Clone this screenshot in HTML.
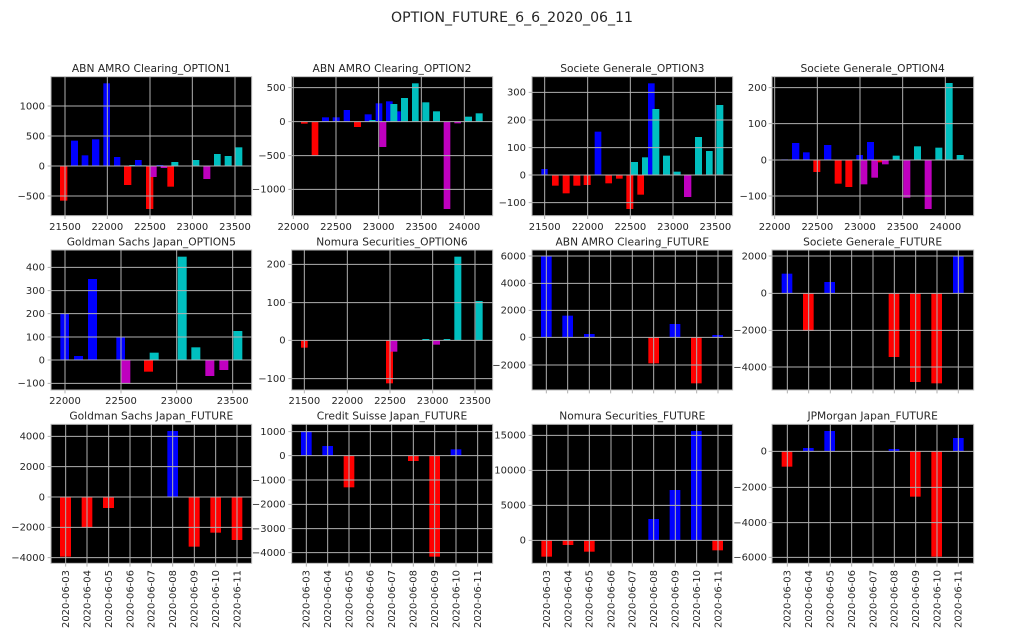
<!DOCTYPE html>
<html><head><meta charset="utf-8"><style>
html,body{margin:0;padding:0;background:#fff;width:1024px;height:640px;overflow:hidden}
svg{display:block}
text{font-family:"DejaVu Sans","Liberation Sans",sans-serif;fill:#262626}
.t{font-size:30px}
.tt{font-size:32px;text-anchor:middle}
.yl{text-anchor:end}
.xl{text-anchor:middle}
.gr line{stroke:#b0b0b0;stroke-width:3}
.fr{fill:none;stroke:#bdbdbd;stroke-width:3}
.bk{fill:#000}
.b{fill:#0000ff}.r{fill:#ff0000}.c{fill:#00bfbf}.m{fill:#bf00bf}
</style></head><body>
<svg width="1024" height="640" viewBox="0 0 1024 640" xmlns="http://www.w3.org/2000/svg">
<text x="512" y="22" style="font-size:14.1px;text-anchor:middle">OPTION_FUTURE_6_6_2020_06_11</text>

<!-- ZOOM1: origin 0,50 -->
<g transform="translate(0,50) scale(0.33333)">
 <text class="tt" x="454" y="66">ABN AMRO Clearing_OPTION1</text>
 <rect class="bk" x="153" y="80" width="602" height="417"/>
 <rect class="r" x="180" y="348" width="22" height="104"/>
 <rect class="b" x="213" y="272" width="21" height="76"/>
 <rect class="b" x="245" y="316" width="20" height="32"/>
 <rect class="b" x="276" y="268" width="22" height="80"/>
 <rect class="b" x="310" y="100" width="20" height="248"/>
 <rect class="b" x="342" y="321" width="19" height="27"/>
 <rect class="r" x="372" y="348" width="22" height="57"/>
 <rect class="c" x="388" y="345" width="20" height="3"/>
 <rect class="b" x="405" y="330" width="20" height="18"/>
 <rect class="c" x="420" y="346" width="20" height="2"/>
 <rect class="r" x="438" y="348" width="22" height="129"/>
 <rect class="m" x="450" y="348" width="20" height="33"/>
 <rect class="b" x="470" y="345" width="20" height="3"/>
 <rect class="m" x="482" y="348" width="20" height="6"/>
 <rect class="r" x="502" y="348" width="20" height="62"/>
 <rect class="c" x="514" y="336" width="21" height="12"/>
 <rect class="c" x="578" y="330" width="20" height="18"/>
 <rect class="m" x="610" y="348" width="21" height="39"/>
 <rect class="c" x="642" y="312" width="20" height="36"/>
 <rect class="c" x="674" y="318" width="21" height="30"/>
 <rect class="c" x="706" y="292" width="21" height="56"/>
 <g class="gr">
  <line x1="195" y1="80" x2="195" y2="507"/><line x1="322" y1="80" x2="322" y2="507"/><line x1="450" y1="80" x2="450" y2="507"/><line x1="577" y1="80" x2="577" y2="507"/><line x1="705" y1="80" x2="705" y2="507"/>
  <line x1="143" y1="168" x2="755" y2="168"/><line x1="143" y1="258" x2="755" y2="258"/><line x1="143" y1="348" x2="755" y2="348"/><line x1="143" y1="438" x2="755" y2="438"/>
 </g>
 <rect class="fr" x="153" y="80" width="602" height="417"/>
 <g class="t xl"><text x="195" y="540">21500</text><text x="322" y="540">22000</text><text x="450" y="540">22500</text><text x="577" y="540">23000</text><text x="705" y="540">23500</text></g>
 <g class="t yl"><text x="135" y="178">1000</text><text x="135" y="268">500</text><text x="135" y="358">0</text><text x="135" y="448">−500</text></g>

 <text class="tt" x="1176" y="66">ABN AMRO Clearing_OPTION2</text>
 <rect class="bk" x="875" y="80" width="603" height="417"/>
 <rect class="r" x="903" y="215" width="20" height="6"/>
 <rect class="r" x="935" y="215" width="20" height="101"/>
 <rect class="b" x="966" y="202" width="21" height="13"/>
 <rect class="b" x="998" y="202" width="21" height="13"/>
 <rect class="b" x="1031" y="180" width="19" height="35"/>
 <rect class="r" x="1062" y="215" width="21" height="16"/>
 <rect class="b" x="1094" y="193" width="21" height="22"/>
 <rect class="c" x="1108" y="210" width="19" height="5"/>
 <rect class="b" x="1127" y="160" width="20" height="55"/>
 <rect class="m" x="1138" y="215" width="21" height="76"/>
 <rect class="b" x="1158" y="154" width="20" height="61"/>
 <rect class="b" x="1190" y="184" width="12" height="31"/>
 <rect class="c" x="1171" y="162" width="21" height="53"/>
 <rect class="c" x="1203" y="144" width="21" height="71"/>
 <rect class="c" x="1236" y="100" width="20" height="115"/>
 <rect class="c" x="1267" y="157" width="21" height="58"/>
 <rect class="c" x="1299" y="184" width="21" height="31"/>
 <rect class="m" x="1331" y="215" width="20" height="262"/>
 <rect class="m" x="1363" y="215" width="20" height="5"/>
 <rect class="c" x="1395" y="200" width="21" height="15"/>
 <rect class="c" x="1427" y="190" width="21" height="25"/>
 <g class="gr">
  <line x1="880" y1="80" x2="880" y2="507"/><line x1="1008" y1="80" x2="1008" y2="507"/><line x1="1136" y1="80" x2="1136" y2="507"/><line x1="1264" y1="80" x2="1264" y2="507"/><line x1="1393" y1="80" x2="1393" y2="507"/>
  <line x1="865" y1="113" x2="1478" y2="113"/><line x1="865" y1="215" x2="1478" y2="215"/><line x1="865" y1="317" x2="1478" y2="317"/><line x1="865" y1="418" x2="1478" y2="418"/>
 </g>
 <rect class="fr" x="875" y="80" width="603" height="417"/>
 <g class="t xl"><text x="880" y="540">22000</text><text x="1008" y="540">22500</text><text x="1136" y="540">23000</text><text x="1264" y="540">23500</text><text x="1393" y="540">24000</text></g>
 <g class="t yl"><text x="857" y="123">500</text><text x="857" y="225">0</text><text x="857" y="327">−500</text><text x="857" y="428">−1000</text></g>
</g>

<!-- ZOOM2: origin 512,50 -->
<g transform="translate(512,50) scale(0.33333)">
 <text class="tt" x="361" y="66">Societe Generale_OPTION3</text>
 <rect class="bk" x="60" y="80" width="602" height="417"/>
 <rect class="b" x="88" y="357" width="19" height="18"/>
 <rect class="r" x="120" y="375" width="20" height="32"/>
 <rect class="r" x="152" y="375" width="21" height="55"/>
 <rect class="r" x="184" y="375" width="21" height="32"/>
 <rect class="r" x="215" y="375" width="21" height="30"/>
 <rect class="b" x="248" y="245" width="20" height="130"/>
 <rect class="r" x="280" y="375" width="20" height="25"/>
 <rect class="r" x="312" y="375" width="20" height="11"/>
 <rect class="r" x="343" y="375" width="21" height="102"/>
 <rect class="c" x="357" y="336" width="21" height="39"/>
 <rect class="r" x="376" y="375" width="20" height="59"/>
 <rect class="c" x="390" y="322" width="20" height="53"/>
 <rect class="b" x="408" y="100" width="20" height="275"/>
 <rect class="c" x="421" y="177" width="21" height="198"/>
 <rect class="c" x="453" y="317" width="21" height="58"/>
 <rect class="c" x="485" y="365" width="21" height="10"/>
 <rect class="m" x="516" y="375" width="22" height="66"/>
 <rect class="c" x="549" y="261" width="21" height="114"/>
 <rect class="c" x="582" y="303" width="20" height="72"/>
 <rect class="c" x="613" y="165" width="21" height="210"/>
 <g class="gr">
  <line x1="98" y1="80" x2="98" y2="507"/><line x1="227" y1="80" x2="227" y2="507"/><line x1="355" y1="80" x2="355" y2="507"/><line x1="483" y1="80" x2="483" y2="507"/><line x1="610" y1="80" x2="610" y2="507"/>
  <line x1="50" y1="127" x2="662" y2="127"/><line x1="50" y1="210" x2="662" y2="210"/><line x1="50" y1="293" x2="662" y2="293"/><line x1="50" y1="375" x2="662" y2="375"/><line x1="50" y1="458" x2="662" y2="458"/>
 </g>
 <rect class="fr" x="60" y="80" width="602" height="417"/>
 <g class="t xl"><text x="98" y="540">21500</text><text x="227" y="540">22000</text><text x="355" y="540">22500</text><text x="483" y="540">23000</text><text x="610" y="540">23500</text></g>
 <g class="t yl"><text x="42" y="137">300</text><text x="42" y="220">200</text><text x="42" y="303">100</text><text x="42" y="385">0</text><text x="42" y="468">−100</text></g>

 <text class="tt" x="1082" y="66">Societe Generale_OPTION4</text>
 <rect class="bk" x="780" y="80" width="605" height="417"/>
 <rect class="b" x="808" y="328" width="20" height="2"/>
 <rect class="b" x="840" y="279" width="22" height="51"/>
 <rect class="b" x="873" y="307" width="20" height="23"/>
 <rect class="r" x="904" y="330" width="21" height="36"/>
 <rect class="b" x="936" y="285" width="22" height="45"/>
 <rect class="r" x="968" y="330" width="21" height="71"/>
 <rect class="r" x="1000" y="330" width="21" height="81"/>
 <rect class="b" x="1033" y="315" width="20" height="15"/>
 <rect class="m" x="1046" y="330" width="20" height="73"/>
 <rect class="b" x="1065" y="276" width="21" height="54"/>
 <rect class="m" x="1078" y="330" width="20" height="53"/>
 <rect class="r" x="1097" y="330" width="20" height="7"/>
 <rect class="m" x="1110" y="330" width="20" height="13"/>
 <rect class="c" x="1142" y="317" width="21" height="13"/>
 <rect class="m" x="1174" y="330" width="21" height="113"/>
 <rect class="c" x="1206" y="289" width="21" height="41"/>
 <rect class="m" x="1238" y="330" width="21" height="147"/>
 <rect class="c" x="1270" y="293" width="21" height="37"/>
 <rect class="c" x="1300" y="99" width="22" height="231"/>
 <rect class="c" x="1334" y="315" width="21" height="15"/>
 <g class="gr">
  <line x1="788" y1="80" x2="788" y2="507"/><line x1="916" y1="80" x2="916" y2="507"/><line x1="1044" y1="80" x2="1044" y2="507"/><line x1="1172" y1="80" x2="1172" y2="507"/><line x1="1300" y1="80" x2="1300" y2="507"/>
  <line x1="770" y1="113" x2="1385" y2="113"/><line x1="770" y1="221" x2="1385" y2="221"/><line x1="770" y1="330" x2="1385" y2="330"/><line x1="770" y1="438" x2="1385" y2="438"/>
 </g>
 <rect class="fr" x="780" y="80" width="605" height="417"/>
 <g class="t xl"><text x="788" y="540">22000</text><text x="916" y="540">22500</text><text x="1044" y="540">23000</text><text x="1172" y="540">23500</text><text x="1300" y="540">24000</text></g>
 <g class="t yl"><text x="765" y="123">200</text><text x="765" y="231">100</text><text x="765" y="340">0</text><text x="765" y="448">−100</text></g>
</g>

<!-- ZOOM3: origin 0,240 -->
<g transform="translate(0,240) scale(0.33333)">
 <text class="tt" x="454" y="16">Goldman Sachs Japan_OPTION5</text>
 <rect class="bk" x="153" y="30" width="602" height="420"/>
 <rect class="b" x="181" y="221" width="26" height="139"/>
 <rect class="b" x="222" y="348" width="27" height="12"/>
 <rect class="b" x="264" y="117" width="27" height="243"/>
 <rect class="b" x="349" y="292" width="26" height="68"/>
 <rect class="m" x="364" y="360" width="27" height="70"/>
 <rect class="r" x="432" y="360" width="27" height="35"/>
 <rect class="c" x="449" y="338" width="27" height="22"/>
 <rect class="c" x="533" y="50" width="27" height="310"/>
 <rect class="c" x="574" y="322" width="27" height="38"/>
 <rect class="m" x="616" y="360" width="27" height="48"/>
 <rect class="m" x="658" y="360" width="27" height="30"/>
 <rect class="c" x="700" y="273" width="27" height="87"/>
 <g class="gr">
  <line x1="195" y1="30" x2="195" y2="460"/><line x1="363" y1="30" x2="363" y2="460"/><line x1="530" y1="30" x2="530" y2="460"/><line x1="698" y1="30" x2="698" y2="460"/>
  <line x1="143" y1="82" x2="755" y2="82"/><line x1="143" y1="152" x2="755" y2="152"/><line x1="143" y1="221" x2="755" y2="221"/><line x1="143" y1="291" x2="755" y2="291"/><line x1="143" y1="360" x2="755" y2="360"/><line x1="143" y1="430" x2="755" y2="430"/>
 </g>
 <rect class="fr" x="153" y="30" width="602" height="420"/>
 <g class="t xl"><text x="195" y="492">22000</text><text x="363" y="492">22500</text><text x="530" y="492">23000</text><text x="698" y="492">23500</text></g>
 <g class="t yl"><text x="135" y="92">400</text><text x="135" y="162">300</text><text x="135" y="231">200</text><text x="135" y="301">100</text><text x="135" y="370">0</text><text x="135" y="440">−100</text></g>

 <text class="tt" x="1176" y="16">Nomura Securities_OPTION6</text>
 <rect class="bk" x="875" y="30" width="603" height="420"/>
 <rect class="r" x="903" y="301" width="20" height="22"/>
 <rect class="r" x="1158" y="301" width="21" height="129"/>
 <rect class="m" x="1171" y="301" width="21" height="34"/>
 <rect class="c" x="1267" y="297" width="21" height="4"/>
 <rect class="m" x="1299" y="301" width="21" height="13"/>
 <rect class="c" x="1331" y="297" width="20" height="4"/>
 <rect class="c" x="1363" y="50" width="21" height="251"/>
 <rect class="c" x="1427" y="183" width="21" height="118"/>
 <g class="gr">
  <line x1="913" y1="30" x2="913" y2="460"/><line x1="1042" y1="30" x2="1042" y2="460"/><line x1="1170" y1="30" x2="1170" y2="460"/><line x1="1298" y1="30" x2="1298" y2="460"/><line x1="1425" y1="30" x2="1425" y2="460"/>
  <line x1="865" y1="73" x2="1478" y2="73"/><line x1="865" y1="188" x2="1478" y2="188"/><line x1="865" y1="301" x2="1478" y2="301"/><line x1="865" y1="416" x2="1478" y2="416"/>
 </g>
 <rect class="fr" x="875" y="30" width="603" height="420"/>
 <g class="t xl"><text x="913" y="492">21500</text><text x="1042" y="492">22000</text><text x="1170" y="492">22500</text><text x="1298" y="492">23000</text><text x="1425" y="492">23500</text></g>
 <g class="t yl"><text x="857" y="83">200</text><text x="857" y="198">100</text><text x="857" y="311">0</text><text x="857" y="426">−100</text></g>
</g>

<!-- ZOOM4: origin 512,240 -->
<g transform="translate(512,240) scale(0.33333)">
 <text class="tt" x="361" y="16">ABN AMRO Clearing_FUTURE</text>
 <rect class="bk" x="60" y="30" width="602" height="420"/>
 <rect class="b" x="87" y="48" width="32" height="244"/>
 <rect class="b" x="151" y="227" width="32" height="65"/>
 <rect class="b" x="216" y="282" width="32" height="10"/>
 <rect class="r" x="409" y="292" width="32" height="78"/>
 <rect class="b" x="473" y="252" width="32" height="40"/>
 <rect class="r" x="537" y="292" width="32" height="138"/>
 <rect class="b" x="601" y="285" width="32" height="7"/>
 <g class="gr">
  <line x1="103" y1="30" x2="103" y2="460"/><line x1="167" y1="30" x2="167" y2="460"/><line x1="232" y1="30" x2="232" y2="460"/><line x1="296" y1="30" x2="296" y2="460"/><line x1="361" y1="30" x2="361" y2="460"/><line x1="425" y1="30" x2="425" y2="460"/><line x1="490" y1="30" x2="490" y2="460"/><line x1="554" y1="30" x2="554" y2="460"/><line x1="618" y1="30" x2="618" y2="460"/>
  <line x1="50" y1="48" x2="662" y2="48"/><line x1="50" y1="130" x2="662" y2="130"/><line x1="50" y1="211" x2="662" y2="211"/><line x1="50" y1="292" x2="662" y2="292"/><line x1="50" y1="375" x2="662" y2="375"/>
 </g>
 <rect class="fr" x="60" y="30" width="602" height="420"/>
 <g class="t yl"><text x="42" y="58">6000</text><text x="42" y="140">4000</text><text x="42" y="221">2000</text><text x="42" y="302">0</text><text x="42" y="385">−2000</text></g>

 <text class="tt" x="1082" y="16">Societe Generale_FUTURE</text>
 <rect class="bk" x="780" y="30" width="605" height="420"/>
 <rect class="b" x="809" y="101" width="32" height="59"/>
 <rect class="r" x="873" y="160" width="32" height="113"/>
 <rect class="b" x="937" y="126" width="32" height="34"/>
 <rect class="r" x="1130" y="160" width="32" height="191"/>
 <rect class="r" x="1194" y="160" width="32" height="266"/>
 <rect class="r" x="1258" y="160" width="32" height="270"/>
 <rect class="b" x="1323" y="48" width="32" height="112"/>
 <g class="gr">
  <line x1="826" y1="30" x2="826" y2="460"/><line x1="890" y1="30" x2="890" y2="460"/><line x1="955" y1="30" x2="955" y2="460"/><line x1="1019" y1="30" x2="1019" y2="460"/><line x1="1083" y1="30" x2="1083" y2="460"/><line x1="1147" y1="30" x2="1147" y2="460"/><line x1="1211" y1="30" x2="1211" y2="460"/><line x1="1275" y1="30" x2="1275" y2="460"/><line x1="1339" y1="30" x2="1339" y2="460"/>
  <line x1="770" y1="48" x2="1385" y2="48"/><line x1="770" y1="160" x2="1385" y2="160"/><line x1="770" y1="271" x2="1385" y2="271"/><line x1="770" y1="381" x2="1385" y2="381"/>
 </g>
 <rect class="fr" x="780" y="30" width="605" height="420"/>
 <g class="t yl"><text x="765" y="58">2000</text><text x="765" y="170">0</text><text x="765" y="281">−2000</text><text x="765" y="391">−4000</text></g>
</g>

<!-- ZOOM5: origin 0,400 -->
<g transform="translate(0,400) scale(0.33333)">
 <text class="tt" x="454" y="58">Goldman Sachs Japan_FUTURE</text>
 <rect class="bk" x="153" y="73" width="602" height="417"/>
 <rect class="r" x="180" y="291" width="33" height="179"/>
 <rect class="r" x="245" y="291" width="32" height="92"/>
 <rect class="r" x="309" y="291" width="33" height="33"/>
 <rect class="b" x="502" y="93" width="32" height="198"/>
 <rect class="r" x="566" y="291" width="33" height="149"/>
 <rect class="r" x="631" y="291" width="32" height="107"/>
 <rect class="r" x="695" y="291" width="32" height="129"/>
 <g class="gr">
  <line x1="197" y1="73" x2="197" y2="500"/><line x1="261" y1="73" x2="261" y2="500"/><line x1="326" y1="73" x2="326" y2="500"/><line x1="390" y1="73" x2="390" y2="500"/><line x1="454" y1="73" x2="454" y2="500"/><line x1="518" y1="73" x2="518" y2="500"/><line x1="583" y1="73" x2="583" y2="500"/><line x1="647" y1="73" x2="647" y2="500"/><line x1="711" y1="73" x2="711" y2="500"/>
  <line x1="143" y1="109" x2="755" y2="109"/><line x1="143" y1="200" x2="755" y2="200"/><line x1="143" y1="291" x2="755" y2="291"/><line x1="143" y1="382" x2="755" y2="382"/><line x1="143" y1="473" x2="755" y2="473"/>
 </g>
 <rect class="fr" x="153" y="73" width="602" height="417"/>
 <g class="t yl"><text x="135" y="119">4000</text><text x="135" y="210">2000</text><text x="135" y="301">0</text><text x="135" y="392">−2000</text><text x="135" y="483">−4000</text></g>
 <g class="t yl">
  <text transform="translate(207,510) rotate(-90)">2020-06-03</text><text transform="translate(271,510) rotate(-90)">2020-06-04</text><text transform="translate(336,510) rotate(-90)">2020-06-05</text><text transform="translate(400,510) rotate(-90)">2020-06-06</text><text transform="translate(464,510) rotate(-90)">2020-06-07</text><text transform="translate(528,510) rotate(-90)">2020-06-08</text><text transform="translate(593,510) rotate(-90)">2020-06-09</text><text transform="translate(657,510) rotate(-90)">2020-06-10</text><text transform="translate(721,510) rotate(-90)">2020-06-11</text>
 </g>

 <text class="tt" x="1176" y="58">Credit Suisse Japan_FUTURE</text>
 <rect class="bk" x="875" y="73" width="603" height="417"/>
 <rect class="b" x="903" y="93" width="32" height="74"/>
 <rect class="b" x="967" y="138" width="32" height="29"/>
 <rect class="r" x="1031" y="167" width="32" height="95"/>
 <rect class="r" x="1224" y="167" width="32" height="16"/>
 <rect class="r" x="1288" y="167" width="32" height="303"/>
 <rect class="b" x="1352" y="148" width="32" height="19"/>
 <g class="gr">
  <line x1="919" y1="73" x2="919" y2="500"/><line x1="983" y1="73" x2="983" y2="500"/><line x1="1047" y1="73" x2="1047" y2="500"/><line x1="1111" y1="73" x2="1111" y2="500"/><line x1="1175" y1="73" x2="1175" y2="500"/><line x1="1240" y1="73" x2="1240" y2="500"/><line x1="1304" y1="73" x2="1304" y2="500"/><line x1="1368" y1="73" x2="1368" y2="500"/><line x1="1433" y1="73" x2="1433" y2="500"/>
  <line x1="865" y1="95" x2="1478" y2="95"/><line x1="865" y1="167" x2="1478" y2="167"/><line x1="865" y1="240" x2="1478" y2="240"/><line x1="865" y1="313" x2="1478" y2="313"/><line x1="865" y1="386" x2="1478" y2="386"/><line x1="865" y1="458" x2="1478" y2="458"/>
 </g>
 <rect class="fr" x="875" y="73" width="603" height="417"/>
 <g class="t yl"><text x="857" y="105">1000</text><text x="857" y="177">0</text><text x="857" y="250">−1000</text><text x="857" y="323">−2000</text><text x="857" y="396">−3000</text><text x="857" y="468">−4000</text></g>
 <g class="t yl">
  <text transform="translate(929,510) rotate(-90)">2020-06-03</text><text transform="translate(993,510) rotate(-90)">2020-06-04</text><text transform="translate(1057,510) rotate(-90)">2020-06-05</text><text transform="translate(1121,510) rotate(-90)">2020-06-06</text><text transform="translate(1185,510) rotate(-90)">2020-06-07</text><text transform="translate(1250,510) rotate(-90)">2020-06-08</text><text transform="translate(1314,510) rotate(-90)">2020-06-09</text><text transform="translate(1378,510) rotate(-90)">2020-06-10</text><text transform="translate(1443,510) rotate(-90)">2020-06-11</text>
 </g>
</g>

<!-- ZOOM6: origin 512,400 -->
<g transform="translate(512,400) scale(0.33333)">
 <text class="tt" x="361" y="58">Nomura Securities_FUTURE</text>
 <rect class="bk" x="60" y="73" width="602" height="417"/>
 <rect class="r" x="88" y="421" width="32" height="49"/>
 <rect class="r" x="152" y="421" width="32" height="14"/>
 <rect class="r" x="216" y="421" width="32" height="34"/>
 <rect class="b" x="409" y="357" width="32" height="64"/>
 <rect class="b" x="473" y="270" width="32" height="151"/>
 <rect class="b" x="537" y="93" width="32" height="328"/>
 <rect class="r" x="601" y="421" width="32" height="30"/>
 <g class="gr">
  <line x1="104" y1="73" x2="104" y2="500"/><line x1="168" y1="73" x2="168" y2="500"/><line x1="232" y1="73" x2="232" y2="500"/><line x1="297" y1="73" x2="297" y2="500"/><line x1="361" y1="73" x2="361" y2="500"/><line x1="425" y1="73" x2="425" y2="500"/><line x1="490" y1="73" x2="490" y2="500"/><line x1="554" y1="73" x2="554" y2="500"/><line x1="618" y1="73" x2="618" y2="500"/>
  <line x1="50" y1="106" x2="662" y2="106"/><line x1="50" y1="211" x2="662" y2="211"/><line x1="50" y1="316" x2="662" y2="316"/><line x1="50" y1="421" x2="662" y2="421"/>
 </g>
 <rect class="fr" x="60" y="73" width="602" height="417"/>
 <g class="t yl"><text x="42" y="116">15000</text><text x="42" y="221">10000</text><text x="42" y="326">5000</text><text x="42" y="431">0</text></g>
 <g class="t yl">
  <text transform="translate(114,510) rotate(-90)">2020-06-03</text><text transform="translate(178,510) rotate(-90)">2020-06-04</text><text transform="translate(242,510) rotate(-90)">2020-06-05</text><text transform="translate(307,510) rotate(-90)">2020-06-06</text><text transform="translate(371,510) rotate(-90)">2020-06-07</text><text transform="translate(435,510) rotate(-90)">2020-06-08</text><text transform="translate(500,510) rotate(-90)">2020-06-09</text><text transform="translate(564,510) rotate(-90)">2020-06-10</text><text transform="translate(628,510) rotate(-90)">2020-06-11</text>
 </g>

 <text class="tt" x="1082" y="58">JPMorgan Japan_FUTURE</text>
 <rect class="bk" x="780" y="73" width="605" height="417"/>
 <rect class="r" x="809" y="154" width="32" height="46"/>
 <rect class="b" x="873" y="144" width="32" height="10"/>
 <rect class="b" x="937" y="93" width="32" height="61"/>
 <rect class="b" x="1130" y="147" width="32" height="7"/>
 <rect class="r" x="1194" y="154" width="32" height="136"/>
 <rect class="r" x="1258" y="154" width="32" height="316"/>
 <rect class="b" x="1323" y="114" width="32" height="40"/>
 <g class="gr">
  <line x1="826" y1="73" x2="826" y2="500"/><line x1="890" y1="73" x2="890" y2="500"/><line x1="955" y1="73" x2="955" y2="500"/><line x1="1019" y1="73" x2="1019" y2="500"/><line x1="1083" y1="73" x2="1083" y2="500"/><line x1="1147" y1="73" x2="1147" y2="500"/><line x1="1211" y1="73" x2="1211" y2="500"/><line x1="1275" y1="73" x2="1275" y2="500"/><line x1="1339" y1="73" x2="1339" y2="500"/>
  <line x1="770" y1="154" x2="1385" y2="154"/><line x1="770" y1="262" x2="1385" y2="262"/><line x1="770" y1="368" x2="1385" y2="368"/><line x1="770" y1="472" x2="1385" y2="472"/>
 </g>
 <rect class="fr" x="780" y="73" width="605" height="417"/>
 <g class="t yl"><text x="765" y="164">0</text><text x="765" y="272">−2000</text><text x="765" y="378">−4000</text><text x="765" y="482">−6000</text></g>
 <g class="t yl">
  <text transform="translate(836,510) rotate(-90)">2020-06-03</text><text transform="translate(900,510) rotate(-90)">2020-06-04</text><text transform="translate(965,510) rotate(-90)">2020-06-05</text><text transform="translate(1029,510) rotate(-90)">2020-06-06</text><text transform="translate(1093,510) rotate(-90)">2020-06-07</text><text transform="translate(1157,510) rotate(-90)">2020-06-08</text><text transform="translate(1221,510) rotate(-90)">2020-06-09</text><text transform="translate(1285,510) rotate(-90)">2020-06-10</text><text transform="translate(1349,510) rotate(-90)">2020-06-11</text>
 </g>
</g>
</svg>
</body></html>
